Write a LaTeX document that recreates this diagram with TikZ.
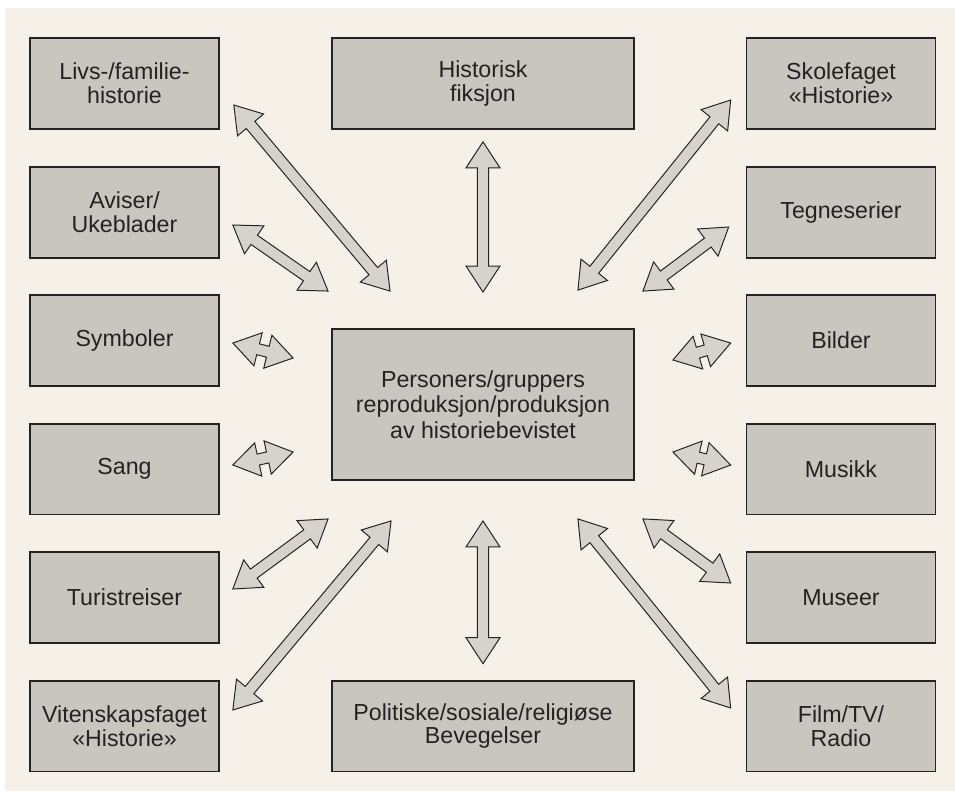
\documentclass[tikz,border=0pt]{standalone}
\usepackage{fontspec}
\setmainfont{Liberation Sans}
\usetikzlibrary{calc}

\definecolor{bgcol}{RGB}{245,241,232}
\definecolor{boxfill}{RGB}{201,198,192}
\definecolor{arrowfill}{RGB}{214,211,205}
\definecolor{inkcol}{RGB}{35,35,35}

% size of the block arrows
\newcommand{\tiplen}{0.65cm}
\newcommand{\tipwid}{0.425cm}
\newcommand{\shaftwid}{0.14cm}

% double headed block arrow between two points
\newcommand{\dblarrow}[2]{%
  \path[arrowbody] let \p1=(#1), \p2=(#2), \n1={atan2(\y2-\y1,\x2-\x1)} in
    (\p1) -- ($(\p1)+(\n1:\tiplen)+(\n1+90:\tipwid)$)
    -- ($(\p1)+(\n1:\tiplen)+(\n1+90:\shaftwid)$)
    -- ($(\p2)+(\n1:-\tiplen)+(\n1+90:\shaftwid)$)
    -- ($(\p2)+(\n1:-\tiplen)+(\n1+90:\tipwid)$)
    -- (\p2)
    -- ($(\p2)+(\n1:-\tiplen)+(\n1-90:\tipwid)$)
    -- ($(\p2)+(\n1:-\tiplen)+(\n1-90:\shaftwid)$)
    -- ($(\p1)+(\n1:\tiplen)+(\n1-90:\shaftwid)$)
    -- ($(\p1)+(\n1:\tiplen)+(\n1-90:\tipwid)$) -- cycle;
}

\begin{document}
\begin{tikzpicture}[x=0.025cm, y=-0.025cm,
  box/.style={draw=inkcol, fill=boxfill, line width=1.3pt, align=center,
    text=inkcol, inner sep=2pt},
  sidebox/.style={box, minimum width=4.72cm, minimum height=2.27cm,
    font=\fontsize{16.5}{17}\selectfont},
  midbox/.style={box, minimum width=7.55cm, minimum height=2.27cm,
    font=\fontsize{16.5}{17}\selectfont},
  arrowbody/.style={draw=inkcol, fill=arrowfill, line width=0.7pt, line join=miter}]
\useasboundingbox (0,0) rectangle (955,791);
\fill[white] (0,0) rectangle (955,791);
\fill[bgcol] (5,8) rectangle (955,791);

% left column
\node[sidebox] (livs) at (124.5,83.5) {Livs-/familie-\\historie};
\node[sidebox] (aviser) at (124.5,212.5) {Aviser/\\Ukeblader};
\node[sidebox] (symb) at (124.5,340.5) {Symboler};
\node[sidebox] (sang) at (124.5,469) {Sang};
\node[sidebox] (turist) at (124.5,597.5) {Turistreiser};
\node[sidebox] (viten) at (124.5,726) {Vitenskapsfaget\\«Historie»};

% middle
\node[midbox] (fiksjon) at (483,83.5) {Historisk\\fiksjon};
\node[box, minimum width=7.55cm, minimum height=3.775cm,
  font=\fontsize{16.5}{18.2}\selectfont] (hbev) at (483,404.5)
  {Personers/gruppers\\reproduksjon/produksjon\\av historiebevistet};
\node[midbox] (beveg) at (483,726) {Politiske/sosiale/religiøse\\Bevegelser};

% right column
\node[sidebox] (skole) at (841,83.5) {Skolefaget\\«Historie»};
\node[sidebox] (tegn) at (841,212.5) {Tegneserier};
\node[sidebox] (bilder) at (841,340.5) {Bilder};
\node[sidebox] (musikk) at (841,469) {Musikk};
\node[sidebox] (museer) at (841,597.5) {Museer};
\node[sidebox] (film) at (841,726) {Film/TV/\\Radio};

% arrows, left side
\dblarrow{[shift={(14,21.5)}]livs.east}{[shift={(59,-37)}]hbev.north west}
\dblarrow{[shift={(13,12.5)}]aviser.east}{[shift={(-3,-37)}]hbev.north west}
\dblarrow{[shift={(13,2.5)}]symb.east}{[shift={(-38,-46.5)}]hbev.west}
\dblarrow{[shift={(13,-4)}]sang.east}{[shift={(-38,47.5)}]hbev.west}
\dblarrow{[shift={(13,-8.5)}]turist.east}{[shift={(-3,38)}]hbev.south west}
\dblarrow{[shift={(13,-16)}]viten.east}{[shift={(60,40)}]hbev.south west}

% arrows, middle
\dblarrow{[shift={(0,12)}]fiksjon.south}{[shift={(0,-36)}]hbev.north}
\dblarrow{[shift={(0,-16)}]beveg.north}{[shift={(0,40)}]hbev.south}

% arrows, right side
\dblarrow{[shift={(-15,16.5)}]skole.west}{[shift={(-57,-38)}]hbev.north east}
\dblarrow{[shift={(-17,14.5)}]tegn.west}{[shift={(8,-37)}]hbev.north east}
\dblarrow{[shift={(-15,2.5)}]bilder.west}{[shift={(38,-44.5)}]hbev.east}
\dblarrow{[shift={(-15,-4)}]musikk.west}{[shift={(38,47.5)}]hbev.east}
\dblarrow{[shift={(-15,-14.5)}]museer.west}{[shift={(8,38)}]hbev.south east}
\dblarrow{[shift={(-15,-18)}]film.west}{[shift={(-57,38)}]hbev.south east}
\end{tikzpicture}
\end{document}
